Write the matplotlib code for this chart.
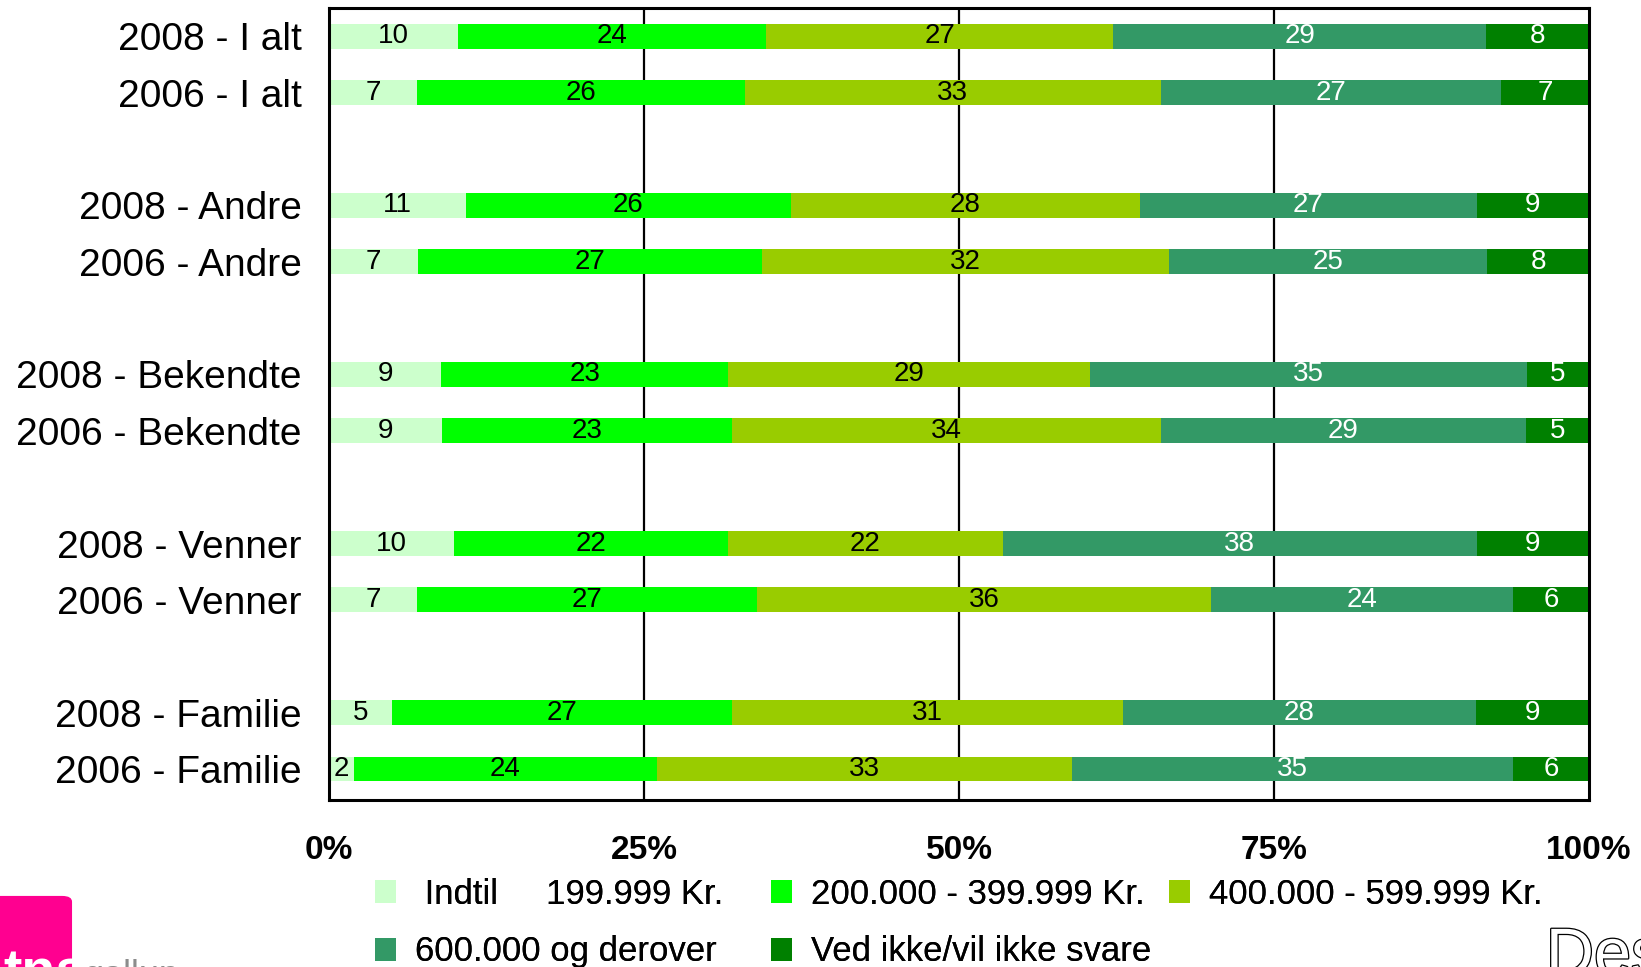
import matplotlib
matplotlib.use('Agg')
import matplotlib.pyplot as plt
import matplotlib.patheffects as pe
from matplotlib.patches import Patch, FancyBboxPatch
import numpy as np

plt.rcParams['font.family'] = ['Liberation Sans', 'DejaVu Sans']

ROW_LABELS = ['2008 - I alt', '2006 - I alt', '2008 - Andre', '2006 - Andre',
              '2008 - Bekendte', '2006 - Bekendte', '2008 - Venner', '2006 - Venner',
              '2008 - Familie', '2006 - Familie']
ROW_POS = [0, 1, 3, 4, 6, 7, 9, 10, 12, 13]  # blank slot between pairs

SERIES = [' Indtil     199.999 Kr.', '200.000 - 399.999 Kr.', '400.000 - 599.999 Kr.',
          '600.000 og derover', 'Ved ikke/vil ikke svare']
COLORS = ['#CCFFCC', '#00FF00', '#99CC00', '#339966', '#008000']
TEXT_COLORS = ['black', 'black', 'black', 'white', 'white']

# shares in percent, one list per series, rows in ROW_LABELS order
indtil_199 = [10, 7, 11, 7, 9, 9, 10, 7, 5, 2]
kr_200_399 = [24, 26, 26, 27, 23, 23, 22, 27, 27, 24]
kr_400_599 = [27, 33, 28, 32, 29, 34, 22, 36, 31, 33]
kr_600_plus = [29, 27, 27, 25, 35, 29, 38, 24, 28, 35]
ved_ikke = [8, 7, 9, 8, 5, 5, 9, 6, 9, 6]

X_TICKS = [0, 25, 50, 75, 100]
X_TICK_LABELS = ['0%', '25%', '50%', '75%', '100%']


def main():
    data = np.array([indtil_199, kr_200_399, kr_400_599, kr_600_plus, ved_ikke], dtype=float)
    # bars fill the full 100 % width, so scale each row by its total
    shares = data / data.sum(axis=0) * 100

    fig = plt.figure(figsize=(16.41, 9.67), dpi=100)
    ax = fig.add_axes([0.2005, 0.1727, 0.7678, 0.819])

    for x in [25, 50, 75]:
        ax.axvline(x, color='black', linewidth=1.6, zorder=1)

    left = np.zeros(len(ROW_POS))
    handles = []
    for i in range(len(SERIES)):
        ax.barh(ROW_POS, shares[i], left=left, height=0.44, color=COLORS[i],
                edgecolor='none', zorder=2)
        for y, l, w, v in zip(ROW_POS, left, shares[i], data[i]):
            ax.text(l + w / 2, y, f'{int(v)}', ha='center', va='center',
                    fontsize=20, color=TEXT_COLORS[i], zorder=3)
        left += shares[i]
        handles.append(Patch(facecolor=COLORS[i], edgecolor='none'))

    ax.set_xlim(0, 100)
    ax.set_ylim(13.55, -0.5)
    ax.set_yticks(ROW_POS)
    ax.set_yticklabels(ROW_LABELS, fontsize=28)
    ax.set_xticks(X_TICKS)
    ax.set_xticklabels(X_TICK_LABELS, fontsize=24, fontweight='bold')
    ax.tick_params(axis='both', length=0)
    ax.tick_params(axis='y', pad=19.5)
    ax.tick_params(axis='x', pad=25)
    for sp in ax.spines.values():
        sp.set_linewidth(2.2)

    # legend laid out as a fixed 3-column grid, rows filled left to right
    columns = [([0, 3], 0.2285), ([1, 4], 0.4698), ([2], 0.7124)]
    for idx, xpos in columns:
        leg = fig.legend([handles[j] for j in idx], [SERIES[j] for j in idx],
                         loc='upper left', bbox_to_anchor=(xpos, 0.092),
                         frameon=False, fontsize=25, borderpad=0, borderaxespad=0,
                         handlelength=0.6, handleheight=0.65, handletextpad=0.55,
                         labelspacing=0.7)
        fig.add_artist(leg)

    # tns gallup logo, cut off by the bottom edge
    fig.add_artist(FancyBboxPatch((-0.02, -0.05), 0.0639, 0.1235, transform=fig.transFigure,
                                  boxstyle='round,pad=0,rounding_size=0.006',
                                  facecolor='#FF0090', edgecolor='none'))
    fig.text(0.002, -0.022, 'tns', fontsize=40, fontweight='bold', color='white')
    fig.text(0.051, -0.02, 'gallup', fontsize=26, color='#8C8C8C')

    fig.text(0.942, -0.008, 'Des', fontsize=48, color='white', va='baseline',
             path_effects=[pe.Stroke(linewidth=1.8, foreground='black'), pe.Normal()])

    fig.savefig('out.png', dpi=100)


if __name__ == '__main__':
    main()
